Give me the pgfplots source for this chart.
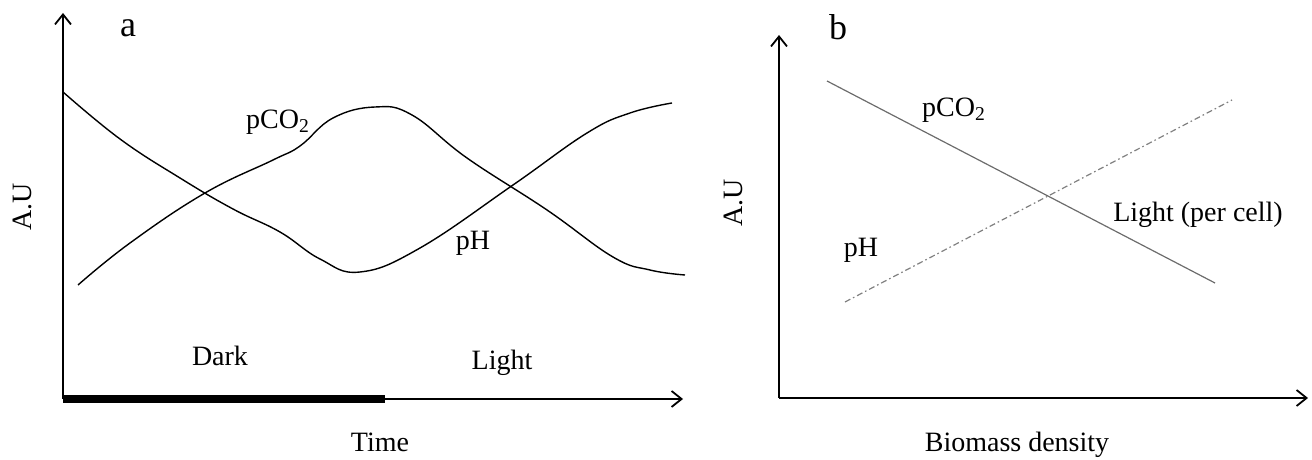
\documentclass[border=0pt]{standalone}
\usepackage{fontspec}
\setmainfont{Liberation Serif}
\usepackage{pgfplots}
\pgfplotsset{compat=1.18}
\usetikzlibrary{arrows.meta}

% shared look of the two schematic panels
\pgfplotsset{
  schem/.style={
    scale only axis, clip=false,
    axis lines=left, ticks=none,
    axis line style={line width=0.9pt, -{Straight Barb[length=5pt,width=8pt,line width=0.9pt]}},
    anchor=south west,
  },
}
\tikzset{lab/.style={font=\fontsize{14}{16}\selectfont, inner sep=0pt}}

\begin{document}
\begin{tikzpicture}
\useasboundingbox (0,0) rectangle (656pt,230pt);

% panel a: diel cycle
\begin{axis}[schem, at={(31.5pt,30.5pt)},
    width=310pt, height=193pt,
    xmin=63, xmax=683, ymin=61, ymax=447]
% pH
\addplot[line width=0.7pt, smooth, tension=0.7] coordinates {
  (63,368) (120,321) (180,282) (233,251) (280,228) (320,201) (360,188)
  (420,212) (513,275) (587,327) (630,347) (672,357)
};
% pCO2
\addplot[line width=0.7pt, smooth, tension=0.7] coordinates {
  (78,175) (130,217) (205,267) (273,300) (300,314) (333,342) (375,353)
  (412,345) (467,302) (547,250) (613,203) (650,190) (685,185)
};
\addplot[line width=4pt] coordinates {(63,61) (385,61)};
\node[lab] at (axis cs:128,432) {\fontsize{18}{20}\selectfont a};
\node[lab] at (axis cs:278,338) {pCO\textsubscript{2}};
\node[lab] at (axis cs:473,217) {pH};
\node[lab] at (axis cs:220,104) {Dark};
\node[lab] at (axis cs:502,97) {Light};
\node[lab] at (axis cs:380,18) {Time};
\node[lab, rotate=90] at (axis cs:22,253) {A.U};
\end{axis}

% panel b: biomass density
\begin{axis}[schem, at={(389.5pt,31pt)},
    width=264.5pt, height=181.5pt,
    xmin=779, xmax=1308, ymin=62, ymax=425]
\addplot[line width=0.6pt, gray!85!black] coordinates {(827,379) (1215,177)};
\addplot[line width=0.6pt, gray, dash pattern=on 3pt off 1.5pt on 0.8pt off 1.5pt]
  coordinates {(845,158) (1232,360)};
\node[lab] at (axis cs:838,433) {\fontsize{18}{20}\selectfont b};
\node[lab] at (axis cs:954,350) {pCO\textsubscript{2}};
\node[lab] at (axis cs:1198,245) {Light (per cell)};
\node[lab] at (axis cs:861,210) {pH};
\node[lab, rotate=90] at (axis cs:733,257) {A.U};
\node[lab] at (axis cs:1017,15) {Biomass density};
\end{axis}
\end{tikzpicture}
\end{document}
